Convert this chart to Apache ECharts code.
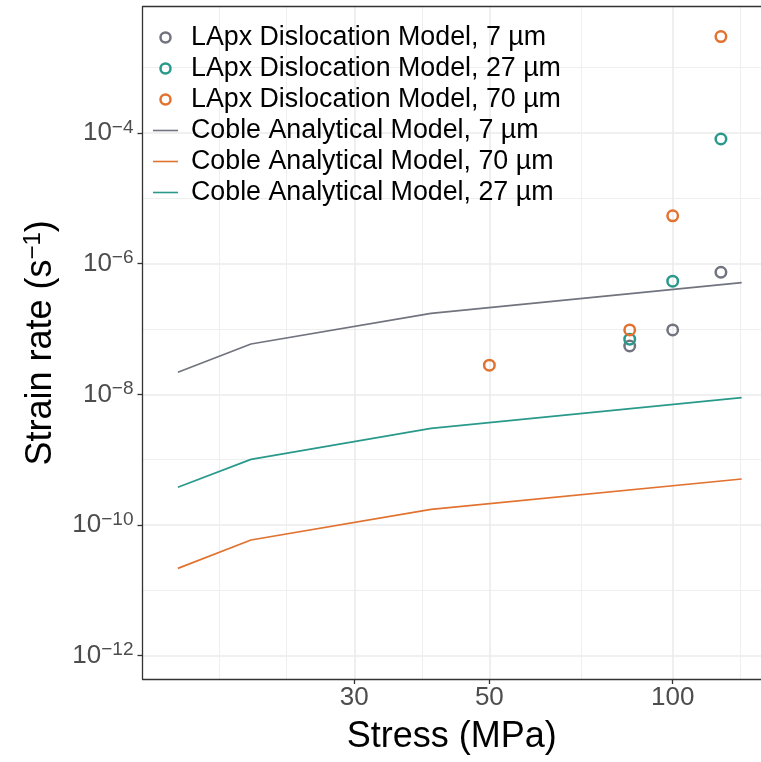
<!DOCTYPE html>
<html>
<head>
<meta charset="utf-8">
<script src="https://cdn.jsdelivr.net/npm/echarts@6/dist/echarts.min.js"></script>
<style>
  html, body { margin: 0; padding: 0; background: #fff; }
  #chart { width: 761px; height: 762px; }
</style>
</head>
<body>
<div id="chart"></div>
<script>
// Coble analytical model curves (stress in MPa, strain rate in 1/s)
const cobleStress = [15.4, 20.3, 40.1, 129.8];
const coble7 = [2.18e-8, 5.9e-8, 1.74e-7, 5.12e-7];
const coble27 = [3.78e-10, 1.01e-9, 3.02e-9, 8.89e-9];
const coble70 = [2.17e-11, 5.9e-11, 1.74e-10, 5.06e-10];

// LApx dislocation model points
const lapx7Stress = [85, 100, 120];
const lapx7Rate = [5.5e-8, 9.7e-8, 7.4e-7];
const lapx27Stress = [85, 100, 120];
const lapx27Rate = [7.0e-8, 5.4e-7, 8.1e-5];
const lapx70Stress = [50, 85, 100, 120];
const lapx70Rate = [2.8e-8, 9.7e-8, 5.4e-6, 3.0e-3];

// axis breaks
const xMajor = [30, 50, 100];
const xMinor = [18, 23.24, 38.73, 70.71, 129.3];
const yMajor = [1e-12, 1e-10, 1e-8, 1e-6, 1e-4];
const yMinor = [1e-11, 1e-9, 1e-7, 1e-5, 1e-3];

const GRAY = '#71747E';
const TEAL = '#29998B';
const ORANGE = '#E2722F';
const FONT = 'Liberation Sans';

function pairs(xs, ys) {
  return xs.map((x, i) => [x, ys[i]]);
}

function supLabel(v) {
  const e = Math.round(Math.log10(v));
  return '{b|10}{s|' + (e < 0 ? '\u2212' : '') + Math.abs(e) + '}';
}

let myChart = echarts.init(document.getElementById('chart'));

const xMin = Math.pow(10, 1.1294);
const xMax = Math.pow(10, 2.145);
const yMin = Math.pow(10, -12.357);
const yMax = Math.pow(10, -2.066);

const lineSeries = (name, ys, color) => ({
  name: name,
  type: 'line',
  xAxisIndex: 0,
  yAxisIndex: 0,
  symbol: 'none',
  data: pairs(cobleStress, ys),
  lineStyle: { color: color, width: 1.7 },
  itemStyle: { color: color },
  z: 2
});

const pointSeries = (name, xs, ys, color) => ({
  name: name,
  type: 'scatter',
  xAxisIndex: 0,
  yAxisIndex: 0,
  symbol: 'circle',
  symbolSize: 10.5,
  data: pairs(xs, ys),
  itemStyle: { color: 'rgba(0,0,0,0)', borderColor: color, borderWidth: 2.5, opacity: 1 },
  z: 3
});

const legendLine = 'path://M0 0 M25 10 M0 4.2 H25 V5.8 H0 Z';
const legendCircle = color => ({
  icon: 'circle',
  itemStyle: { color: 'rgba(0,0,0,0)', borderColor: color, borderWidth: 2.5, opacity: 1 }
});

let option = {
  animation: false,
  backgroundColor: '#fff',
  textStyle: { fontFamily: FONT },
  grid: { left: 142.5, top: 6.7, right: 0, bottom: 83, containLabel: false },
  legend: {
    orient: 'vertical',
    left: 148,
    top: 19,
    itemWidth: 25,
    itemHeight: 10,
    itemGap: 4,
    selectedMode: false,
    textStyle: { fontSize: 26.8, lineHeight: 26, color: '#000', fontFamily: FONT, padding: [0, 0, 0, 8] },
    data: [
      Object.assign({ name: 'LApx Dislocation Model, 7 µm' }, legendCircle(GRAY)),
      Object.assign({ name: 'LApx Dislocation Model, 27 µm' }, legendCircle(TEAL)),
      Object.assign({ name: 'LApx Dislocation Model, 70 µm' }, legendCircle(ORANGE)),
      { name: 'Coble Analytical Model, 7 µm', icon: legendLine, itemStyle: { color: GRAY } },
      { name: 'Coble Analytical Model, 70 µm', icon: legendLine, itemStyle: { color: ORANGE } },
      { name: 'Coble Analytical Model, 27 µm', icon: legendLine, itemStyle: { color: TEAL } }
    ]
  },
  xAxis: [
    {
      type: 'log',
      min: xMin,
      max: xMax,
      position: 'bottom',
      name: 'Stress (MPa)',
      nameLocation: 'middle',
      nameGap: 40,
      nameTextStyle: { fontSize: 36, color: '#000', fontFamily: FONT },
      axisLine: { show: true, onZero: false, lineStyle: { color: '#333', width: 1.3 } },
      axisTick: { show: true, length: 5, customValues: xMajor, lineStyle: { color: '#333', width: 1.3 } },
      axisLabel: { customValues: xMajor, fontSize: 26, color: '#4D4D4D', margin: 6, fontFamily: FONT },
      splitLine: { show: true, lineStyle: { color: '#EBEBEB', width: 1.6 } },
      minorTick: { show: false },
      minorSplitLine: { show: false }
    },
    {
      type: 'log',
      min: xMin,
      max: xMax,
      position: 'top',
      axisLine: { show: true, onZero: false, lineStyle: { color: '#333', width: 1.3 } },
      axisTick: { show: false, customValues: xMinor },
      axisLabel: { show: false, customValues: xMinor },
      splitLine: { show: true, lineStyle: { color: '#EFEFEF', width: 1 } }
    }
  ],
  yAxis: [
    {
      type: 'log',
      min: yMin,
      max: yMax,
      position: 'left',
      name: '{t|Strain rate (s}{sup|\u22121}{t|)}',
      nameLocation: 'middle',
      nameRotate: 90,
      nameGap: 81,
      nameTextStyle: {
        rich: {
          t: { fontSize: 36, lineHeight: 40, color: '#000', fontFamily: FONT },
          sup: { fontSize: 24, lineHeight: 10, verticalAlign: 'top', color: '#000', fontFamily: FONT }
        }
      },
      axisLine: { show: true, onZero: false, lineStyle: { color: '#333', width: 1.3 } },
      axisTick: { show: true, length: 5, customValues: yMajor, lineStyle: { color: '#333', width: 1.3 } },
      axisLabel: {
        customValues: yMajor,
        margin: 9,
        formatter: supLabel,
        rich: {
          b: { fontSize: 26, lineHeight: 30, color: '#4D4D4D', fontFamily: FONT },
          s: { fontSize: 19, lineHeight: 6, verticalAlign: 'top', color: '#4D4D4D', fontFamily: FONT }
        }
      },
      splitLine: { show: true, lineStyle: { color: '#EBEBEB', width: 1.6 } },
      minorTick: { show: false },
      minorSplitLine: { show: false }
    },
    {
      type: 'log',
      min: yMin,
      max: yMax,
      position: 'right',
      axisLine: { show: false },
      axisTick: { show: false, customValues: yMinor },
      axisLabel: { show: false, customValues: yMinor },
      splitLine: { show: true, lineStyle: { color: '#EFEFEF', width: 1 } }
    }
  ],
  series: [
    lineSeries('Coble Analytical Model, 7 µm', coble7, GRAY),
    lineSeries('Coble Analytical Model, 70 µm', coble70, ORANGE),
    lineSeries('Coble Analytical Model, 27 µm', coble27, TEAL),
    pointSeries('LApx Dislocation Model, 7 µm', lapx7Stress, lapx7Rate, GRAY),
    pointSeries('LApx Dislocation Model, 27 µm', lapx27Stress, lapx27Rate, TEAL),
    pointSeries('LApx Dislocation Model, 70 µm', lapx70Stress, lapx70Rate, ORANGE)
  ]
};

myChart.setOption(option);
</script>
</body>
</html>
